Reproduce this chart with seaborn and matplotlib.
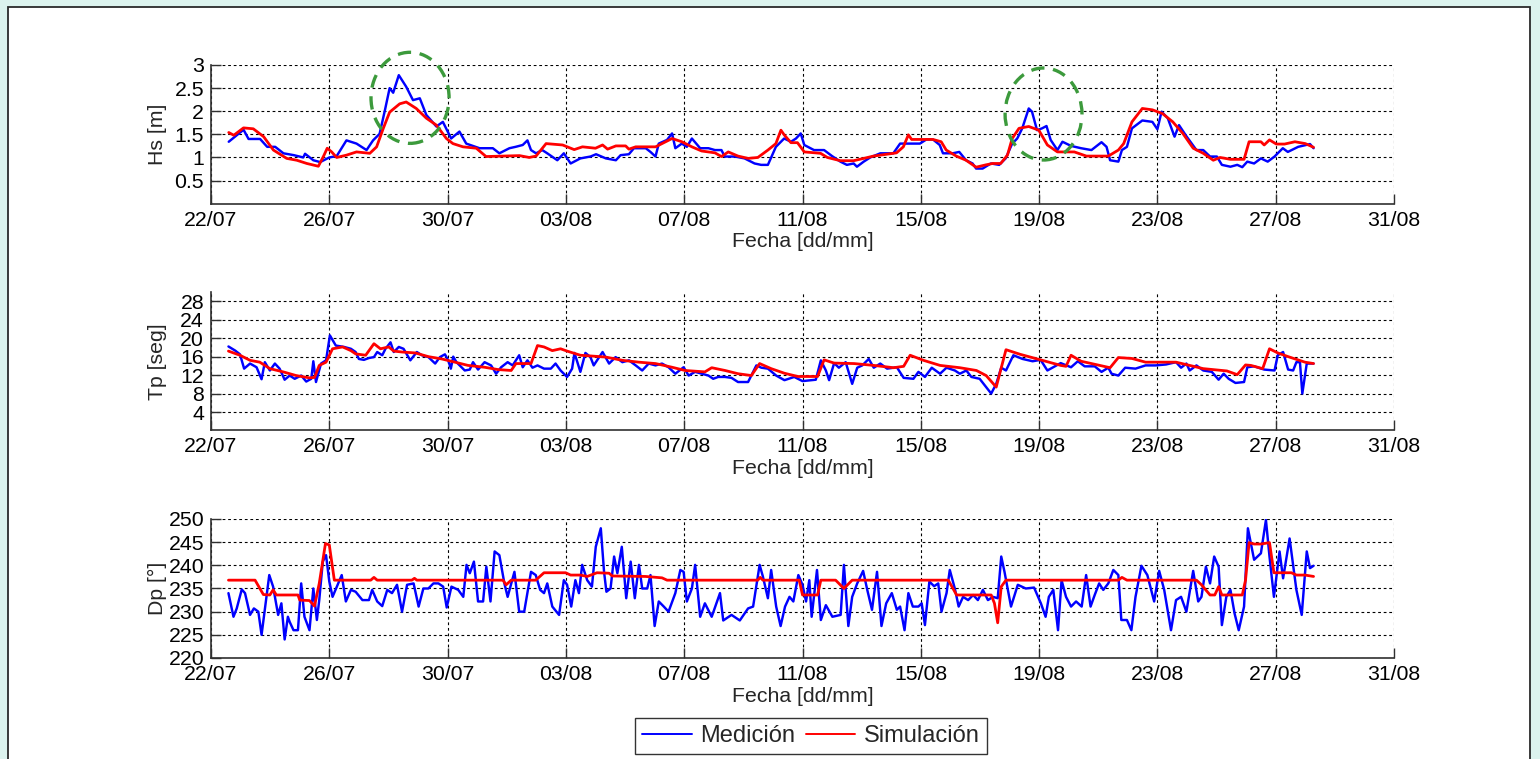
import numpy as np
import pandas as pd
import matplotlib
matplotlib.use("Agg")
import matplotlib.pyplot as plt
import matplotlib.dates as mdates
from matplotlib.patches import Ellipse, Rectangle
from matplotlib.lines import Line2D
import seaborn as sns

# ---------------------------------------------------------------------------
# Data: time in days since 22/07 00:00, values per series
# ---------------------------------------------------------------------------
x_tick_labels = ["22/07", "26/07", "30/07", "03/08", "07/08", "11/08",
                 "15/08", "19/08", "23/08", "27/08", "31/08"]
year = 2013

hs_med_t = [0.6, 1.1, 1.27, 1.66, 1.9, 2.17, 2.45, 2.8, 3.12, 3.18, 3.46, 3.69, 4.0, 4.25,
            4.58, 4.92, 5.26, 5.48, 5.7, 5.88, 6.04, 6.16, 6.35, 6.6, 6.83, 7.06, 7.28, 7.62,
            7.84, 8.12, 8.4, 8.63, 9.08, 9.53, 9.75, 10.09, 10.3, 10.54, 10.7, 10.82, 10.99,
            11.2, 11.37, 11.71, 11.93, 12.16, 12.49, 12.83, 13.02, 13.35, 13.69, 13.85, 14.13,
            14.3, 14.7, 14.86, 15.03, 15.14, 15.42, 15.59, 15.7, 15.92, 16.09, 16.26, 16.54,
            16.82, 17.04, 17.26, 17.37, 17.71, 18.04, 18.38, 18.6, 18.83, 19.1, 19.38, 19.61,
            19.78, 19.94, 20.06, 20.39, 20.73, 21.0, 21.28, 21.5, 21.73, 21.84, 22.07, 22.29,
            22.63, 23.07, 23.3, 23.63, 23.97, 24.19, 24.41, 24.64, 24.75, 25.08, 25.3, 25.53,
            25.75, 25.87, 26.09, 26.37, 26.65, 26.87, 27.09, 27.26, 27.43, 27.65, 27.76, 27.93,
            28.1, 28.25, 28.39, 28.62, 28.79, 29.08, 29.42, 29.77, 30.11, 30.28, 30.4, 30.68,
            30.8, 30.97, 31.14, 31.49, 31.83, 32.0, 32.14, 32.35, 32.58, 32.73, 32.98, 33.32,
            33.55, 33.78, 34.01, 34.18, 34.47, 34.7, 34.87, 35.04, 35.27, 35.5, 35.73, 35.96,
            36.24, 36.41, 36.76, 37.16, 37.28]
hs_med = [1.34, 1.6, 1.4, 1.4, 1.23, 1.23, 1.09, 1.05, 1.0, 1.08, 0.94, 0.9, 1.0, 1.03,
          1.37, 1.3, 1.16, 1.37, 1.51, 2.02, 2.5, 2.4, 2.78, 2.53, 2.24, 2.28, 1.92, 1.67,
          1.77, 1.41, 1.56, 1.3, 1.2, 1.2, 1.09, 1.2, 1.23, 1.27, 1.37, 1.16, 1.09,
          1.16, 1.09, 0.94, 1.09, 0.87, 0.98, 1.02, 1.07, 0.98, 0.94, 1.05, 1.07,
          1.2, 1.2, 1.12, 1.02, 1.3, 1.38, 1.52, 1.2, 1.3, 1.23, 1.41, 1.2,
          1.2, 1.16, 1.16, 1.02, 1.02, 0.98, 0.87, 0.84, 0.84, 1.23, 1.41, 1.34,
          1.41, 1.52, 1.27, 1.16, 1.16, 1.03, 0.91, 0.84, 0.87, 0.8, 0.91, 1.0,
          1.09, 1.09, 1.3, 1.3, 1.3, 1.39, 1.39, 1.27, 1.09, 1.09, 1.12, 0.94,
          0.87, 0.76, 0.76, 0.87, 0.84, 0.98, 1.3, 1.41, 1.63, 2.06, 1.99, 1.59,
          1.63, 1.68, 1.38, 1.16, 1.34, 1.25, 1.2, 1.16, 1.33, 1.23, 0.94, 0.91,
          1.16, 1.23, 1.63, 1.8, 1.77, 1.61, 1.99, 1.85, 1.45, 1.7, 1.46, 1.16,
          1.16, 1.02, 1.02, 0.84, 0.8, 0.84, 0.79, 0.91, 0.87, 0.98, 0.91, 1.02,
          1.2, 1.12, 1.23, 1.29, 1.2]

hs_sim_t = [0.6, 0.77, 1.1, 1.43, 1.78, 2.11, 2.56, 2.9, 3.24, 3.63, 3.8, 3.93, 4.08, 4.25,
            4.58, 4.92, 5.37, 5.6, 5.82, 6.04, 6.38, 6.6, 6.94, 7.28, 7.62, 7.96, 8.18, 8.52,
            8.97, 9.3, 9.87, 10.43, 10.76, 10.99, 11.33, 11.89, 12.28, 12.56, 13.0, 13.24,
            13.41, 13.69, 14.02, 14.13, 14.36, 15.03, 15.25, 15.59, 15.92, 16.26, 16.59, 17.04,
            17.26, 17.49, 17.82, 18.16, 18.49, 18.83, 19.1, 19.27, 19.38, 19.61, 19.83, 20.06,
            20.61, 20.84, 21.28, 21.73, 22.07, 22.4, 22.85, 23.18, 23.41, 23.58, 23.69, 24.08,
            24.41, 24.69, 24.86, 25.2, 25.53, 25.87, 26.2, 26.43, 26.7, 26.93, 27.09, 27.32,
            27.65, 27.99, 28.28, 28.62, 29.19, 29.6, 30.34, 30.68, 30.86, 31.14, 31.49, 31.83,
            32.17, 32.52, 32.86, 33.21, 33.55, 33.89, 34.12, 34.47, 34.93, 35.1, 35.5, 35.61,
            35.79, 36.02, 36.3, 36.65, 37.0, 37.28]
hs_sim = [1.54, 1.48, 1.64, 1.62, 1.45, 1.16, 0.98, 0.94, 0.87, 0.81, 1.02, 1.2, 1.12, 1.0,
          1.05, 1.12, 1.09, 1.23, 1.62, 1.98, 2.16, 2.2, 2.06, 1.85, 1.7, 1.41, 1.3, 1.23,
          1.2, 1.02, 1.03, 1.04, 1.0, 1.03, 1.3, 1.27, 1.17, 1.23, 1.2, 1.27,
          1.18, 1.25, 1.25, 1.18, 1.23, 1.23, 1.3, 1.41, 1.34, 1.23, 1.14, 1.1,
          1.02, 1.12, 1.03, 0.98, 1.0, 1.16, 1.3, 1.59, 1.49, 1.32, 1.32, 1.12,
          1.09, 1.0, 0.93, 0.93, 0.98, 1.03, 1.07, 1.1, 1.23, 1.49, 1.39, 1.39,
          1.39, 1.34, 1.16, 1.03, 0.94, 0.79, 0.84, 0.87, 0.87, 1.05, 1.41, 1.63,
          1.67, 1.59, 1.27, 1.12, 1.12, 1.03, 1.03, 1.16, 1.3, 1.77, 2.06, 2.03,
          1.95, 1.77, 1.52, 1.2, 1.09, 0.94, 1.0, 0.96, 0.96, 1.34, 1.34, 1.27,
          1.38, 1.29, 1.29, 1.34, 1.3, 1.22]

tp_med_t = [0.59, 0.82, 0.98, 1.12, 1.32, 1.54, 1.71, 1.82, 1.99, 2.16, 2.32, 2.49, 2.66,
            2.83, 3.05, 3.22, 3.39, 3.46, 3.55, 3.72, 3.89, 4.02, 4.22, 4.5, 4.73, 4.89, 5.0,
            5.17, 5.34, 5.51, 5.62, 5.79, 5.9, 6.07, 6.18, 6.35, 6.51, 6.74, 6.96, 7.13, 7.35,
            7.58, 7.74, 7.91, 8.02, 8.11, 8.19, 8.3, 8.58, 8.75, 8.86, 9.03, 9.25, 9.47, 9.64,
            9.81, 10.03, 10.2, 10.42, 10.54, 10.7, 10.87, 11.04, 11.26, 11.49, 11.65, 11.82,
            12.04, 12.21, 12.29, 12.49, 12.66, 12.83, 12.94, 13.24, 13.46, 13.68, 13.91, 14.13,
            14.36, 14.58, 14.8, 15.03, 15.25, 15.47, 15.7, 15.98, 16.15, 16.37, 16.82, 16.98,
            17.15, 17.38, 17.6, 17.82, 18.16, 18.44, 18.61, 18.83, 19.11, 19.39, 19.72, 20.0,
            20.45, 20.62, 20.79, 20.9, 21.07, 21.23, 21.46, 21.68, 21.85, 22.02, 22.24, 22.41,
            22.63, 22.86, 23.19, 23.42, 23.75, 23.92, 24.14, 24.37, 24.65, 24.87, 25.15, 25.32,
            25.54, 25.71, 25.99, 26.21, 26.38, 26.55, 26.72, 26.88, 27.13, 27.44, 27.78, 28.05,
            28.28, 28.45, 28.73, 29.08, 29.31, 29.54, 29.88, 30.11, 30.34, 30.45, 30.68, 30.91,
            31.26, 31.6, 31.94, 32.29, 32.63, 32.8, 32.98, 33.09, 33.32, 33.55, 33.84, 34.07,
            34.24, 34.41, 34.64, 34.93, 35.04, 35.27, 35.61, 35.96, 36.07, 36.25, 36.42, 36.59,
            36.7, 36.82, 36.9, 37.05, 37.28]
tp_med = [18.2, 17.3, 16.5, 13.4, 14.5, 13.7, 11.1, 14.8, 13.0, 14.5, 13.4, 11.0, 11.9,
          11.2, 11.9, 10.6, 11.2, 15.0, 10.5, 14.5, 15.2, 20.6, 18.4, 18.1, 17.7, 17.0, 15.5,
          15.3, 15.7, 15.9, 17.0, 16.3, 17.7, 19.1, 17.0, 18.1, 17.7, 15.2, 17.0, 16.3, 15.9,
          14.5, 15.9, 16.5, 15.2, 13.4, 16.0, 14.8, 13.0, 13.2, 14.8, 13.2, 14.8, 14.1, 12.3,
          13.7, 14.8, 14.1, 16.3, 13.7, 15.2, 13.6, 14.1, 13.4, 13.4, 14.5, 13.0,
          11.6, 13.4, 16.8, 12.7, 16.8, 15.9, 14.1, 17.0, 14.5, 15.9, 14.8, 15.2,
          14.1, 13.0, 14.5, 14.1, 14.5, 13.7, 12.3, 13.7, 11.9, 12.7, 11.9, 11.2,
          11.6, 11.6, 11.4, 10.5, 10.5, 14.1, 13.6, 13.4, 11.9, 10.9, 11.6, 10.7,
          11.0, 15.2, 13.0, 10.9, 14.6, 13.6, 14.8, 10.1, 13.6, 14.1, 15.5, 13.6,
          14.5, 13.4, 13.7, 11.4, 11.2, 12.7, 11.6, 13.6, 12.3, 13.6, 13.0, 12.3,
          13.0, 11.6, 11.2, 9.4, 8.0, 10.1, 13.6, 13.0, 16.3, 15.5, 15.0, 15.3,
          13.0, 13.6, 14.6, 13.7, 15.0, 13.9, 13.9, 12.7, 13.6, 12.3, 11.9, 13.6,
          13.4, 14.1, 14.1, 14.3, 14.8, 13.6, 14.5, 13.0, 14.1, 13.0, 12.7, 11.0,
          12.3, 11.2, 10.3, 10.5, 13.7, 13.9, 13.2, 13.0, 16.3, 17.0, 13.2, 13.0,
          14.8, 14.8, 8.0, 14.5, 14.5]

tp_sim_t = [0.59, 0.98, 1.32, 1.65, 1.99, 2.44, 2.88, 3.33, 3.5, 3.66, 3.89, 4.11, 4.45, 4.73,
            4.89, 5.23, 5.51, 5.73, 6.01, 6.18, 6.46, 6.91, 7.35, 7.8, 8.25, 8.69, 9.25, 9.7,
            10.15, 10.31, 10.82, 11.04, 11.26, 11.54, 11.82, 12.04, 12.49, 13.16, 13.35, 13.91,
            14.47, 15.03, 15.59, 16.03, 16.7, 16.93, 17.38, 17.82, 18.27, 18.55, 18.94, 19.39,
            19.84, 20.51, 20.73, 21.07, 21.74, 22.41, 23.08, 23.42, 23.64, 24.09, 24.65, 25.32,
            25.88, 26.21, 26.55, 26.88, 27.36, 28.05, 28.73, 28.91, 29.08, 29.42, 30.4, 30.68,
            31.14, 31.6, 32.63, 33.55, 34.35, 34.7, 34.98, 35.16, 35.56, 35.79, 36.07, 36.42,
            36.99, 37.28]
tp_sim = [17.2, 16.3, 15.2, 14.8, 13.4, 12.7, 11.9, 11.4, 11.5, 14.1, 14.8, 17.7, 18.1, 17.3,
          16.6, 16.3, 18.8, 17.7, 18.1, 17.2, 17.0, 16.8, 16.0, 15.5, 14.8, 14.1, 13.7, 13.2,
          13.0, 14.5, 14.5, 18.4, 18.1, 17.3, 17.7, 17.2, 16.3, 16.0, 15.9, 15.2,
          14.8, 14.5, 13.7, 13.0, 12.7, 13.6, 13.0, 12.3, 11.9, 14.5, 13.4, 12.4,
          11.7, 11.7, 15.3, 14.6, 14.5, 14.1, 13.6, 13.9, 16.3, 15.2, 14.1, 13.6,
          13.0, 11.9, 9.4, 17.5, 16.5, 15.3, 14.1, 13.9, 16.3, 15.0, 13.6, 15.8,
          15.6, 14.8, 14.8, 13.4, 12.9, 12.1, 14.2, 14.1, 13.4, 17.7, 16.8, 16.0,
          14.8, 14.5]

dp_med_t = [0.59, 0.76, 0.87, 1.04, 1.15, 1.32, 1.45, 1.6, 1.71, 1.82, 1.97, 2.1, 2.27, 2.38,
            2.49, 2.6, 2.66, 2.79, 2.94, 3.05, 3.16, 3.33, 3.46, 3.58, 3.66, 3.78, 3.89, 4.0,
            4.11, 4.28, 4.42, 4.56, 4.73, 4.89, 5.12, 5.34, 5.45, 5.62, 5.79, 5.96, 6.12, 6.29,
            6.46, 6.63, 6.85, 7.02, 7.18, 7.35, 7.52, 7.69, 7.85, 7.97, 8.13, 8.36, 8.53, 8.64,
            8.75, 8.89, 9.03, 9.2, 9.31, 9.45, 9.59, 9.75, 9.92, 10.03, 10.26, 10.42, 10.59,
            10.82, 10.98, 11.13, 11.26, 11.37, 11.54, 11.77, 11.93, 12.04, 12.18, 12.32, 12.44,
            12.55, 12.72, 12.88, 13.01, 13.18, 13.29, 13.37, 13.51, 13.63, 13.74, 13.89, 14.04,
            14.19, 14.33, 14.47, 14.58, 14.75, 14.86, 15.0, 15.14, 15.31, 15.47, 15.7, 15.87,
            15.98, 16.09, 16.26, 16.37, 16.54, 16.7, 16.93, 17.21, 17.32, 17.6, 17.88, 18.16,
            18.33, 18.55, 18.66, 18.83, 18.94, 19.11, 19.26, 19.41, 19.56, 19.69, 19.86, 20.0,
            20.12, 20.23, 20.31, 20.49, 20.62, 20.79, 21.01, 21.29, 21.4, 21.55, 21.68, 21.85,
            22.05, 22.19, 22.35, 22.52, 22.67, 22.83, 23.02, 23.19, 23.3, 23.45, 23.58, 23.73,
            23.92, 24.03, 24.14, 24.29, 24.45, 24.59, 24.7, 24.87, 24.98, 25.15, 25.28, 25.43,
            25.6, 25.77, 25.93, 26.1, 26.27, 26.44, 26.6, 26.72, 26.83, 27.05, 27.28, 27.55,
            27.83, 28.06, 28.22, 28.33, 28.48, 28.64, 28.76, 28.91, 29.08, 29.25, 29.44, 29.59,
            29.74, 29.88, 30.03, 30.17, 30.34, 30.51, 30.68, 30.78, 30.97, 31.12, 31.26, 31.46,
            31.66, 31.89, 32.06, 32.23, 32.46, 32.63, 32.8, 32.98, 33.21, 33.38, 33.49, 33.64,
            33.78, 33.92, 34.07, 34.18, 34.33, 34.47, 34.61, 34.75, 34.93, 35.06, 35.27, 35.5,
            35.67, 35.79, 35.94, 36.13, 36.25, 36.47, 36.7, 36.88, 37.05, 37.16, 37.28]
dp_med = [234.0, 228.9, 230.7, 234.8, 234.0, 229.3, 230.7, 230.0, 225.0, 230.4, 237.9, 235.4,
          229.3, 231.8, 224.0, 228.9, 227.8, 226.0, 226.0, 236.1, 228.9, 226.0, 235.0, 228.2,
          232.5, 240.8, 242.2, 236.5, 233.2, 235.8, 237.9, 232.2, 234.7, 234.3, 232.5, 232.5,
          234.7, 232.2, 231.2, 234.7, 234.0, 235.8, 230.0, 235.8, 236.1, 231.1, 235.0, 235.0,
          236.1, 236.1, 235.4, 230.9, 235.4, 234.7, 233.2, 240.1, 238.3, 240.8, 232.2, 232.2,
          239.7, 232.2, 243.0, 242.2, 236.1, 233.2, 238.6, 230.0, 230.0, 238.6, 237.9, 234.7,
          234.0, 236.1, 231.1, 229.3, 236.8, 235.8, 231.1, 236.8, 234.0, 240.1, 236.8, 235.4,
          244.0, 248.0, 238.6, 234.3, 235.0, 241.9, 238.3, 244.0, 232.9, 240.8, 232.9, 240.1,
          235.0, 235.0, 237.9, 226.9, 232.2, 231.1, 230.0, 234.0, 239.0, 238.6, 232.2, 235.0,
          240.1, 228.9, 231.8, 228.9, 234.0, 228.1, 229.3, 228.1, 230.7, 231.1, 240.1, 237.6,
          232.9, 239.0, 231.1, 226.9, 231.1, 233.2, 232.2, 237.9, 235.8, 232.2, 236.8, 228.9,
          239.0, 228.2, 231.4, 228.9, 229.3, 240.1, 226.9, 233.2, 236.1, 238.8, 234.7, 230.4,
          238.6, 226.9, 231.8, 234.0, 230.4, 231.1, 226.0, 234.0, 231.1, 231.1, 231.8, 227.1,
          236.5, 235.5, 236.1, 230.0, 234.0, 239.0, 235.0, 231.1, 233.2, 232.5, 233.6, 232.5,
          234.7, 232.5, 233.2, 232.9, 241.9, 238.6, 231.1, 235.8, 235.0, 235.2, 231.8, 228.9,
          233.2, 234.7, 226.0, 236.8, 233.2, 231.1, 232.2, 231.1, 237.9, 231.1, 233.6, 236.1,
          234.7, 236.1, 239.0, 237.9, 228.2, 228.2, 226.0, 233.2, 239.9, 237.9, 232.2, 238.8,
          234.7, 226.0, 232.5, 233.2, 230.0, 238.8, 232.2, 233.2, 239.7, 236.1, 241.9, 239.7,
          227.1, 233.2, 234.7, 229.6, 226.0, 231.1, 248.0, 241.2, 242.6, 249.8, 241.9, 233.2,
          243.0, 237.2, 245.8, 234.7, 229.3, 243.0, 239.4, 239.9]

dp_sim_t = [0.59, 1.49, 1.77, 1.99, 2.1, 2.21, 2.94, 3.0, 3.33, 3.5, 3.66, 3.87, 4.0, 4.17,
            5.4, 5.51, 5.62, 6.79, 6.88, 6.96, 9.87, 9.98, 10.15, 10.98, 11.26, 11.99, 12.16,
            12.49, 12.72, 13.05, 13.46, 13.57, 14.69, 15.25, 15.42, 18.49, 18.57, 18.66, 19.89,
            20.0, 20.51, 20.62, 21.12, 21.4, 21.68, 24.93, 25.21, 26.38, 26.49, 26.6, 26.72,
            26.88, 30.68, 30.8, 30.97, 33.32, 33.49, 33.78, 33.94, 34.07, 34.18, 34.87, 34.98,
            35.1, 35.27, 35.5, 35.79, 35.94, 36.53, 36.7, 36.99, 37.28]
dp_sim = [236.8, 236.8, 233.7, 233.6, 234.7, 233.6, 233.6, 232.5, 232.4, 231.2, 236.1, 244.7,
          244.4, 236.8, 236.8, 237.4, 236.8, 236.8, 237.2, 236.8, 236.8, 235.8, 236.8, 236.8,
          238.4, 238.4, 237.9, 237.9, 237.6, 238.4, 238.3, 237.7, 237.6, 237.3, 236.8, 236.8,
          237.4, 236.8, 236.8, 233.6, 233.6, 236.8, 236.8, 235.0, 236.8, 236.8, 233.6, 233.6,
          231.8, 227.6, 235.4, 236.8, 236.8, 237.4, 236.8, 236.8, 235.8, 233.6, 233.6, 235.4,
          233.6, 233.6, 236.8, 244.9, 244.6, 244.6, 244.9, 238.4, 238.4, 237.9, 237.9, 237.6]

series_names = ["Medición", "Simulación"]
series_colors = ["#0000ff", "#ff0000"]

# ---------------------------------------------------------------------------
# Style
# ---------------------------------------------------------------------------
sns.set_style("ticks")
plt.rcParams["font.family"] = ["Liberation Sans", "DejaVu Sans"]
FS = 15.3

BASE = pd.Timestamp(f"{year}-07-22")


def to_dates(days):
    return BASE + pd.to_timedelta(np.asarray(days, dtype=float), unit="D")


tick_dates = pd.to_datetime([f"{s}/{year}" for s in x_tick_labels], format="%d/%m/%Y")

W, H = 1540, 759
fig = plt.figure(figsize=(W / 100, H / 100), dpi=100, facecolor="#dcf3ee")

# white panel with dark border
fig.patches.append(Rectangle((8 / W, -0.02), (1530 - 8) / W, 1.02 - 7 / H,
                             transform=fig.transFigure, facecolor="white",
                             edgecolor="#2a2a2a", lw=1.3, zorder=-10))

left, width = 211 / W, (1394 - 211) / W
panels = [
    dict(top=65.0, bottom=203.7, t=(hs_med_t, hs_sim_t), y=(hs_med, hs_sim),
         ylim=(0, 3), yticks=[0.5, 1, 1.5, 2, 2.5, 3], ylabel="Hs [m]"),
    dict(top=292.0, bottom=430.5, t=(tp_med_t, tp_sim_t), y=(tp_med, tp_sim),
         ylim=(0, 30), yticks=[4, 8, 12, 16, 20, 24, 28], ylabel="Tp [seg]"),
    dict(top=519.0, bottom=658.0, t=(dp_med_t, dp_sim_t), y=(dp_med, dp_sim),
         ylim=(220, 250), yticks=[220, 225, 230, 235, 240, 245, 250], ylabel="Dp [°]"),
]

axes = []
for p in panels:
    ax = fig.add_axes([left, 1 - p["bottom"] / H, width, (p["bottom"] - p["top"]) / H])
    ax.set_facecolor("none")
    for (tt, yy, name, col, lw) in zip(p["t"], p["y"], series_names, series_colors, (1.75, 2.0)):
        sns.lineplot(x=to_dates(tt), y=np.asarray(yy), ax=ax, color=col, lw=lw,
                     legend=False, sort=False, estimator=None)
    ax.set_xlim(tick_dates[0], tick_dates[-1])
    ax.set_ylim(*p["ylim"])
    ax.set_xticks(tick_dates)
    ax.set_xticklabels(x_tick_labels)
    ax.set_yticks(p["yticks"])
    ax.set_yticklabels([f"{v:g}" for v in p["yticks"]])
    ax.set_axisbelow(True)
    ax.grid(True, color="black", linestyle=(0, (2.5, 2.5)), lw=0.8)
    for s in ("top", "right"):
        ax.spines[s].set_visible(False)
    for s in ("left", "bottom"):
        ax.spines[s].set_color("#303030")
        ax.spines[s].set_linewidth(1.2)
    ax.tick_params(axis="both", direction="in", length=7, width=1.0, color="#303030",
                   labelsize=FS, labelcolor="black")
    ax.tick_params(axis="y", pad=5)
    ax.tick_params(axis="x", pad=5)
    ax.set_xlabel("Fecha [dd/mm]", fontsize=FS, labelpad=2)
    ax.set_ylabel(p["ylabel"], fontsize=FS)
    ax.yaxis.set_label_coords(-0.037, 0.5)
    axes.append(ax)

# highlighted storm peaks on the Hs panel
ax1 = axes[0]
for cx_days, cy, w_days, h in [(6.73, 2.29, 2.64, 1.97), (28.15, 1.94, 2.6, 1.99)]:
    cxn = mdates.date2num(BASE + pd.Timedelta(days=cx_days))
    e = Ellipse((cxn, cy), w_days, h, fill=False, edgecolor="#3c9a3c", lw=2.4,
                linestyle=(0, (4, 2.6)), clip_on=False, zorder=5)
    ax1.add_patch(e)

handles = [Line2D([], [], color=c, lw=1.4) for c in series_colors]
leg = fig.legend(handles, series_names, loc="center",
                 bbox_to_anchor=(811 / W, 1 - 736 / H), bbox_transform=fig.transFigure,
                 ncol=2, fontsize=17.0, frameon=True, fancybox=False, shadow=False,
                 edgecolor="black", handlelength=2.1, handletextpad=0.35,
                 columnspacing=0.45, borderpad=0.3, borderaxespad=0)
leg.get_frame().set_linewidth(1.0)

fig.savefig("out.png", dpi=100, facecolor=fig.get_facecolor())
